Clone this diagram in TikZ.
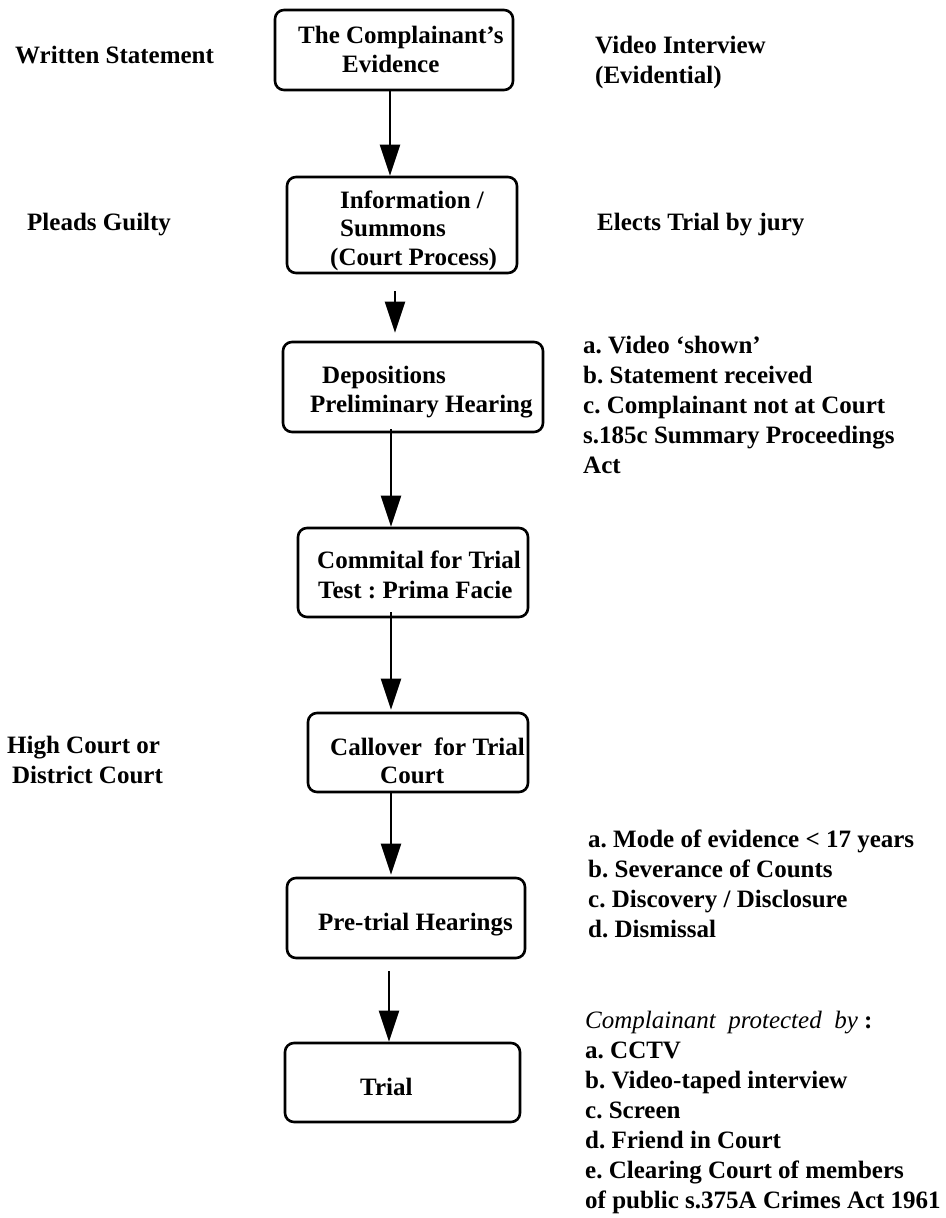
\documentclass[tikz,border=0pt]{standalone}
\usepackage{fontspec}
\setmainfont{Liberation Serif}
\usetikzlibrary{arrows.meta}
\newcommand\mystrut{\rule{0pt}{20pt}}
\begin{document}
\frenchspacing
\begin{tikzpicture}[x=1pt,y=-1pt,
  flowbox/.style={draw, line width=2.6pt, rounded corners=9pt, inner sep=0pt},
  arr/.style={-{Triangle[length=31pt,width=20pt]}, line width=2.2pt},
  txt/.style={inner sep=0pt, anchor=north west, align=left, font=\frenchspacing\bfseries\fontsize{25}{30}\selectfont},
]
\useasboundingbox (0,0) rectangle (945,1218);

% boxes
\node[flowbox, minimum width=238pt, minimum height=80pt] (b1) at (394,50) {};
\node[flowbox, minimum width=230pt, minimum height=96pt] (b2) at (402,225) {};
\node[flowbox, minimum width=260pt, minimum height=90pt] (b3) at (413,387) {};
\node[flowbox, minimum width=230pt, minimum height=89pt] (b4) at (413,572.5) {};
\node[flowbox, minimum width=220pt, minimum height=79pt] (b5) at (418,752.5) {};
\node[flowbox, minimum width=238pt, minimum height=80pt] (b6) at (406,918) {};
\node[flowbox, minimum width=235pt, minimum height=79pt] (b7) at (402.5,1082.5) {};

% box texts
\node[txt, font=\frenchspacing\bfseries\fontsize{25}{29}\selectfont] (t1) at (298,23) {\mystrut The Complainant’s\\\hspace*{44pt}Evidence};
\node[txt, font=\frenchspacing\bfseries\fontsize{25}{28.5}\selectfont] (t2) at (330,188) {\hspace*{10pt}\mystrut Information /\\\hspace*{10pt}Summons\\(Court Process)};
\node[txt, font=\frenchspacing\bfseries\fontsize{25}{29}\selectfont] (t3) at (310,363) {\hspace*{12pt}\mystrut Depositions\\Preliminary Hearing};
\node[txt] (t4) at (317,548) {\mystrut Commital for Trial\\\hspace*{1pt}Test : Prima Facie};
\node[txt, font=\frenchspacing\bfseries\fontsize{25}{28}\selectfont] (t5) at (330,735) {\mystrut Callover\ \ for Trial\\\hspace*{50pt}Court};
\node[txt] (t6) at (318,910) {\mystrut Pre-trial Hearings};
\node[txt] (t7) at (360,1075) {\mystrut Trial};

% side texts
\node[txt] (w1) at (15,43) {\mystrut Written Statement};
\node[txt] (w2) at (27,210) {\mystrut Pleads Guilty};
\node[txt] (w3) at (7,733) {\mystrut High Court or\\\hspace*{5pt}District Court};
\node[txt] (r1) at (595,33) {\mystrut Video Interview\\(Evidential)};
\node[txt] (r2) at (597,210) {\mystrut Elects Trial by jury};
\node[txt] (r3) at (583,333) {\mystrut a. Video ‘shown’\\b. Statement received\\c. Complainant not at Court\\s.185c Summary Proceedings\\Act};
\node[txt] (r4) at (588,827) {\mystrut a. Mode of evidence < 17 years\\b. Severance of Counts\\c. Discovery / Disclosure\\d. Dismissal};
\node[txt] (r5) at (585,1008) {\mystrut{\mdseries\itshape Complainant\ \ protected\ \ by} :\\a. CCTV\\b. Video-taped interview\\c. Screen\\d. Friend in Court\\e. Clearing Court of members\\of public s.375A Crimes Act 1961};

% arrow axes
\coordinate (xa) at (390,0);
\coordinate (xb) at (395,0);
\coordinate (xc) at (391,0);
\coordinate (xd) at (389,0);

\draw[arr] (b1.south -| xa) -- (b2.north -| xa);
\draw[arr, shorten <=17pt, shorten >=8pt] (b2.south -| xb) -- (b3.north -| xb);
\draw[arr, shorten <=-4pt] (b3.south -| xc) -- (b4.north -| xc);
\draw[arr, shorten <=-6pt, shorten >=2pt] (b4.south -| xc) -- (b5.north -| xc);
\draw[arr, shorten >=2pt] (b5.south -| xc) -- (b6.north -| xc);
\draw[arr, shorten <=12pt] (b6.south -| xd) -- (b7.north -| xd);
\end{tikzpicture}
\end{document}
